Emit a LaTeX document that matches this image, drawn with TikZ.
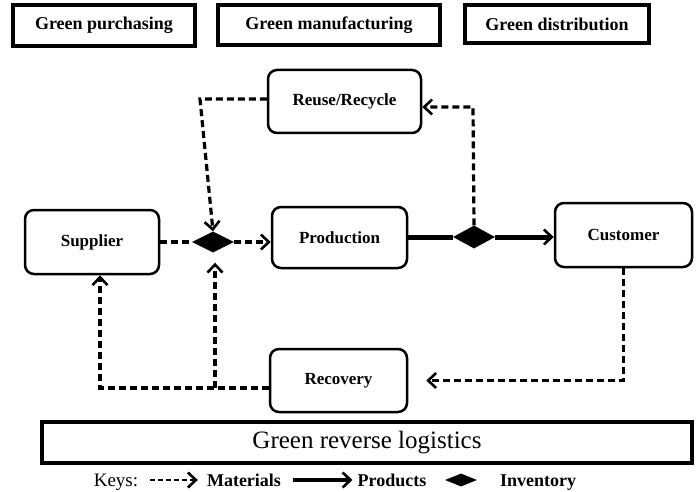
\documentclass[tikz,border=0pt]{standalone}
\usepackage{fontspec}
\setmainfont{Liberation Serif}
\usetikzlibrary{arrows.meta,shapes.geometric}
\begin{document}
\begin{tikzpicture}[x=1pt,y=-1pt,
  topbox/.style={draw, line width=4.5pt, inner sep=0pt, font=\fontsize{18}{20}\selectfont\bfseries},
  proc/.style={draw, line width=2.5pt, rounded corners=9pt, inner sep=0pt, font=\fontsize{17}{19}\selectfont\bfseries},
  inv/.style={diamond, fill=black, draw=none, inner sep=0pt, shape aspect=2, minimum width=42pt, minimum height=21pt},
  mat/.style={line width=3.2pt, dash pattern=on 7pt off 4pt},
  prod/.style={line width=5pt},
  arr/.style={-{Straight Barb[length=8pt,width=15pt,line width=2.6pt]}},
  keytxt/.style={inner sep=0pt, anchor=base, font=\fontsize{18}{20}\selectfont\bfseries}
]
\useasboundingbox[fill=white] (0,0) rectangle (696,492);

% top boxes
\node[topbox, minimum width=182pt, minimum height=41pt] (gp) at (104,25.5) {Green purchasing};
\node[topbox, minimum width=222pt, minimum height=40pt] (gm) at (329,25) {Green manufacturing};
\node[topbox, minimum width=184pt, minimum height=38pt] (gd) at (557,24) {Green distribution};

% process nodes
\node[proc, minimum width=134pt, minimum height=64pt] (sup) at (92,242) {Supplier};
\node[proc, minimum width=135pt, minimum height=61pt] (pro) at (339.5,237.5) {Production};
\node[proc, minimum width=153pt, minimum height=63pt] (reu) at (344.5,101.5) {Reuse/Recycle};
\node[proc, minimum width=137pt, minimum height=64pt] (cus) at (623.5,235) {Customer};
\node[proc, minimum width=137pt, minimum height=63pt] (rec) at (338.5,380.5) {Recovery};

% inventories
\node[inv] (d1) at (213,242) {};
\node[inv, minimum height=23pt] (d2) at (474,237) {};

\coordinate (c1) at (473,107);
\coordinate (c2) at (200,99);
\coordinate (c4) at (100,388);
\coordinate (c5) at (215,388);

% flows
\draw[mat] (sup.east |- d1) -- (d1.west);
\draw[mat,arr] (d1.east) -- (d1.east -| pro.west);
\draw[prod] (pro.east |- d2) -- (d2.west);
\draw[prod,arr] (d2.east) -- (d2.east -| cus.west);
\draw[mat,arr] (d2.north) -- (c1) -- (c1 -| reu.east);
\draw[mat,arr] (c2 -| reu.west) -- (c2) -- (d1.north);
\draw[mat,arr,shorten >=18pt] (cus.south) |- (rec.east);
\draw[mat,arr] (c4 -| rec.west) -- (c4) -- (c4 |- sup.south);
\draw[mat,arr,shorten >=10pt] (c5) -- (c5 |- d1.south);

% green reverse logistics
\node[draw, line width=4pt, minimum width=650pt, minimum height=41pt, inner sep=0pt, font=\fontsize{25}{27}\selectfont] (grl) at (367,442.5) {Green reverse logistics};

% keys
\node[inner sep=0pt, anchor=base, font=\fontsize{19}{21}\selectfont] (keys) at (116,486) {Keys:};
\node[keytxt] (km) at (244,486) {Materials};
\node[keytxt] (kp) at (392,486) {Products};
\node[inv, minimum width=32pt, minimum height=13pt] (kd) at (461,480) {};
\node[keytxt] (ki) at (538,486) {Inventory};
\draw[line width=2.5pt, dash pattern=on 5pt off 3pt, arr, shorten <=12pt, shorten >=9pt] (keys.east |- kd) -- (km.west |- kd);
\draw[line width=4pt, arr, shorten <=12pt, shorten >=5pt] (km.east |- kd) -- (kp.west |- kd);
\end{tikzpicture}
\end{document}
